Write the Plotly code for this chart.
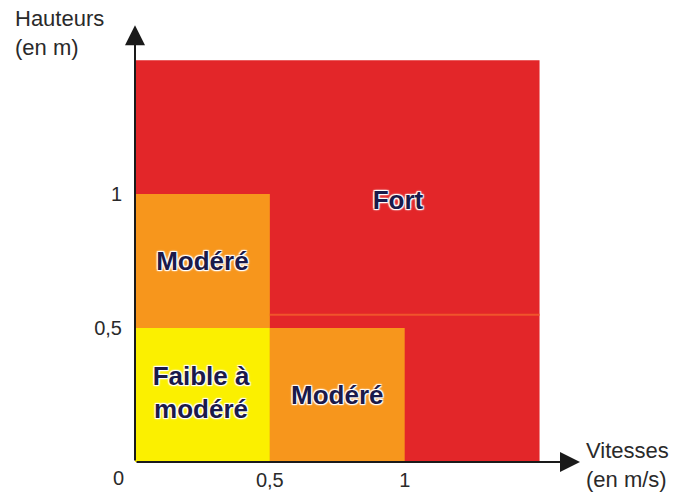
import plotly.graph_objects as go

# Zones (vitesse m/s, hauteur m)
zone_names = ["Fort", "Modéré", "Modéré", "Faible à<br>modéré"]
zone_x0 = [0.0, 0.0, 0.5, 0.0]
zone_x1 = [1.5, 0.5, 1.0, 0.5]
zone_y0 = [0.0, 0.5, 0.0, 0.0]
zone_y1 = [1.5, 1.0, 0.5, 0.5]
label_x = [0.975, 0.25, 0.75, 0.245]
label_y = [0.97, 0.74, 0.24, 0.25]

x_tick_vals = [0.5, 1]
x_tick_text = ["0,5", "1"]
y_tick_vals = [0.5, 1]
y_tick_text = ["0,5", "1"]

zone_colors = ["#e32629", "#f7961c", "#f7961c", "#fbf000"]

fig = go.Figure()

for x0, x1, y0, y1, c in zip(zone_x0, zone_x1, zone_y0, zone_y1, zone_colors):
    fig.add_trace(go.Scatter(
        x=[x0, x1, x1, x0, x0], y=[y0, y0, y1, y1, y0],
        fill="toself", fillcolor=c, mode="lines", line=dict(width=0),
        hoverinfo="skip", showlegend=False))

# faint scan line in red zone
fig.add_shape(type="line", x0=0.5, x1=1.5, y0=0.55, y1=0.55, xref="x", yref="y",
              line=dict(color="#f0552b", width=2), layer="above")

halo = ("1px 1px 1px white, -1px -1px 1px white, 1px -1px 1px white, "
        "-1px 1px 1px white, 0px 0px 3px white")
fig.add_trace(go.Scatter(
    x=label_x, y=label_y, text=zone_names, mode="text",
    textfont=dict(family="Liberation Sans, Arial", size=26, color="#1b1a4a",
                  weight="bold", shadow=halo),
    hoverinfo="skip", showlegend=False))

# axes with arrows
fig.add_annotation(x=0, y=1.63, ax=0, ay=0, xref="x", yref="y", axref="x", ayref="y",
                   showarrow=True, arrowhead=2, arrowsize=2, arrowwidth=2, arrowcolor="#1a1a1a", text="")
fig.add_annotation(x=1.65, y=0, ax=0, ay=0, xref="x", yref="y", axref="x", ayref="y",
                   showarrow=True, arrowhead=2, arrowsize=2, arrowwidth=2, arrowcolor="#1a1a1a", text="")

font_fam = "Liberation Sans, Arial"
tick_font = dict(family=font_fam, size=20, color="#2a2a2a")
title_font = dict(family=font_fam, size=22, color="#2a2a2a")
fig.add_annotation(x=-122 / 445, y=1 - 5.5 / 434, xref="paper", yref="paper",
                   text="Hauteurs<br>(en m)", showarrow=False,
                   xanchor="left", yanchor="middle", align="left", font=title_font)
fig.add_annotation(x=1.65, y=0, xref="x", yref="y", text="Vitesses<br>(en m/s)", showarrow=False,
                   xanchor="left", yanchor="middle", align="left", xshift=4, yshift=-3,
                   font=title_font)
fig.add_annotation(x=0, y=0, xref="x", yref="y", text="0", showarrow=False,
                   xanchor="center", yanchor="middle", xshift=-17, yshift=-16, font=tick_font)

fig.update_xaxes(range=[0, 1.65], tickvals=x_tick_vals, ticktext=x_tick_text,
                 showgrid=False, zeroline=False, showline=False, ticks="",
                 tickfont=tick_font, fixedrange=True, automargin=False, ticklabelstandoff=4)
fig.update_yaxes(range=[0, 1.62], tickvals=y_tick_vals, ticktext=y_tick_text,
                 showgrid=False, zeroline=False, showline=False, ticks="",
                 tickfont=tick_font, ticklabelstandoff=12, fixedrange=True, automargin=False)

fig.update_layout(width=682, height=493, margin=dict(l=135, r=102, t=28, b=31),
                  plot_bgcolor="white", paper_bgcolor="white")

fig.write_html("out.html", config={"displayModeBar": False},
               post_script="document.body.style.margin='0';document.body.style.overflow='hidden';")
